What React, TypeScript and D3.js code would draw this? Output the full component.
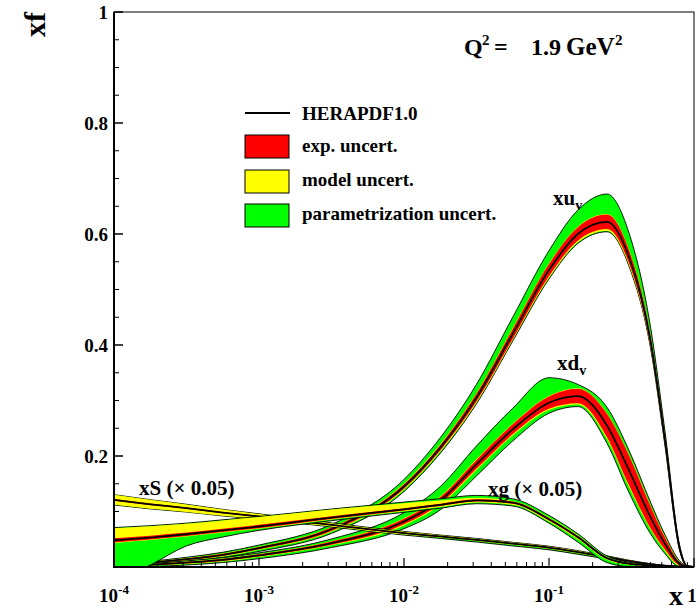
import React from 'react';
import * as d3 from 'd3';

// ---- data ----
const xValues = [1e-4, 1.78e-4, 3.16e-4, 5.62e-4, 1e-3, 3.16e-3, 0.01, 0.0178, 0.0316, 0.0562, 0.1, 0.158, 0.251, 0.355, 0.501, 0.631, 0.794, 0.891, 1];

const xuvCentral = [0.004, 0.008, 0.014, 0.022, 0.034, 0.068, 0.145, 0.215, 0.305, 0.42, 0.535, 0.6, 0.622, 0.56, 0.408, 0.228, 0.035, 0.002, 0];
const xuvExp = [0.001, 0.001, 0.0015, 0.002, 0.002, 0.003, 0.004, 0.005, 0.007, 0.009, 0.011, 0.012, 0.013, 0.012, 0.009, 0.006, 0.002, 0.0005, 0];
const xuvModelLo = [0.0005, 0.0005, 0.001, 0.001, 0.001, 0.0015, 0.002, 0.002, 0.002, 0.002, 0.003, 0.003, 0.003, 0.003, 0.002, 0.002, 0.001, 0, 0];
const xuvModelHi = [0.0003, 0.0003, 0.0005, 0.0005, 0.0005, 0.0005, 0.0008, 0.001, 0.001, 0.001, 0.001, 0.001, 0.001, 0.001, 0.001, 0.001, 0.0005, 0, 0];
const xuvParLo = [0.001, 0.0015, 0.002, 0.002, 0.003, 0.003, 0.003, 0.003, 0.002, 0.002, 0.002, 0.002, 0.002, 0.002, 0.002, 0.002, 0.001, 0, 0];
const xuvParHi = [0.001, 0.001, 0.0015, 0.002, 0.003, 0.005, 0.008, 0.012, 0.016, 0.02, 0.023, 0.03, 0.036, 0.03, 0.015, 0.009, 0.003, 0.0005, 0];

const xdvCentral = [0.002, 0.004, 0.008, 0.013, 0.021, 0.043, 0.082, 0.12, 0.185, 0.248, 0.296, 0.308, 0.255, 0.175, 0.09, 0.042, 0.006, 0.001, 0];
const xdvExp = [0.0005, 0.001, 0.0015, 0.002, 0.002, 0.003, 0.005, 0.006, 0.008, 0.009, 0.011, 0.013, 0.021, 0.027, 0.02, 0.011, 0.003, 0.0005, 0];
const xdvModelLo = [0.0005, 0.0005, 0.001, 0.001, 0.001, 0.001, 0.002, 0.002, 0.002, 0.002, 0.002, 0.002, 0.003, 0.003, 0.002, 0.002, 0.001, 0, 0];
const xdvModelHi = [0.0003, 0.0003, 0.0005, 0.0005, 0.0005, 0.0005, 0.001, 0.001, 0.001, 0.001, 0.001, 0.001, 0.001, 0.001, 0.001, 0.001, 0.0005, 0, 0];
const xdvParLo = [0.001, 0.0015, 0.002, 0.002, 0.003, 0.004, 0.006, 0.009, 0.011, 0.01, 0.006, 0.004, 0.008, 0.01, 0.008, 0.005, 0.002, 0, 0];
const xdvParHi = [0.0005, 0.001, 0.001, 0.0015, 0.002, 0.004, 0.01, 0.018, 0.024, 0.028, 0.033, 0.007, 0.011, 0.008, 0.006, 0.004, 0.002, 0, 0];

const xgCentral = [0.048, 0.053, 0.059, 0.066, 0.073, 0.089, 0.104, 0.112, 0.12, 0.116, 0.086, 0.054, 0.016, 0.006, 0.003, 0.0015, 0.0005, 0.0002, 0];
const xgExp = [0.004, 0.0035, 0.003, 0.003, 0.003, 0.0025, 0.002, 0.002, 0.002, 0.002, 0.002, 0.002, 0.0015, 0.001, 0.0005, 0.0003, 0.0001, 0, 0];
const xgModelLo = [0.001, 0.001, 0.001, 0.001, 0.001, 0.001, 0.0015, 0.002, 0.002, 0.002, 0.002, 0.002, 0.0015, 0.001, 0.0005, 0.0003, 0, 0, 0];
const xgModelHi = [0.018, 0.017, 0.016, 0.015, 0.014, 0.012, 0.009, 0.006, 0.003, 0.001, 0.001, 0.001, 0.0005, 0.0005, 0, 0, 0, 0, 0];
const xgParLo = [0.07, 0.045, 0.017, 0.008, 0.003, 0.002, 0.002, 0.002, 0.002, 0.002, 0.003, 0.005, 0.005, 0.003, 0.001, 0.0005, 0, 0, 0];
const xgParHi = [0.001, 0.001, 0.001, 0.001, 0.001, 0.001, 0.002, 0.003, 0.004, 0.004, 0.004, 0.003, 0.002, 0.001, 0.0005, 0, 0, 0, 0];

const xsCentral = [0.121, 0.113, 0.106, 0.098, 0.091, 0.076, 0.061, 0.055, 0.049, 0.042, 0.035, 0.027, 0.018, 0.011, 0.005, 0.0025, 0.0007, 0.0002, 0];
const xsExp = [0.0015, 0.0015, 0.0012, 0.001, 0.001, 0.001, 0.001, 0.001, 0.001, 0.001, 0.001, 0.001, 0.0008, 0.0005, 0.0003, 0.0002, 0.0001, 0, 0];
const xsModelLo = [0.0075, 0.0065, 0.0055, 0.0045, 0.0035, 0.002, 0.0015, 0.001, 0.001, 0.001, 0.001, 0.001, 0.0008, 0.0005, 0.0003, 0, 0, 0, 0];
const xsModelHi = [0.0075, 0.0065, 0.0055, 0.0045, 0.0035, 0.002, 0.0015, 0.001, 0.001, 0.001, 0.001, 0.001, 0.0008, 0.0005, 0.0003, 0, 0, 0, 0];
const xsParLo = [0.0003, 0.0003, 0.0003, 0.0005, 0.0005, 0.0008, 0.001, 0.0015, 0.002, 0.002, 0.002, 0.002, 0.002, 0.0015, 0.001, 0.0005, 0, 0, 0];
const xsParHi = [0.0003, 0.0003, 0.0003, 0.0003, 0.0003, 0.0005, 0.0005, 0.0005, 0.0005, 0.0005, 0.0005, 0.0005, 0.0005, 0.0003, 0.0002, 0, 0, 0, 0];

const yTickLabels = ['0.2', '0.4', '0.6', '0.8', '1'];
const yTickValues = [0.2, 0.4, 0.6, 0.8, 1];
const xTickValues = [1e-4, 1e-3, 1e-2, 1e-1, 1];
const xTickExps = ['-4', '-3', '-2', '-1', ''];

const legendLabels = ['HERAPDF1.0', 'exp. uncert.', 'model uncert.', 'parametrization uncert.'];

// ---- layout ----
const W = 700, H = 613;
const F = { left: 114, right: 694, top: 12, bottom: 567 };
const FONT = '"Liberation Serif", "Times New Roman", serif';
const RED = '#ff0000', YEL = '#ffff00', GRN = '#00ff00';

const xScale = d3.scaleLog().domain([1e-4, 1]).range([F.left, F.right]);
const yScale = d3.scaleLinear().domain([0, 1]).range([F.bottom, F.top]);

type Series = { c: number[]; e: number[]; mLo: number[]; mHi: number[]; pLo: number[]; pHi: number[] };
const series: Series[] = [
  { c: xuvCentral, e: xuvExp, mLo: xuvModelLo, mHi: xuvModelHi, pLo: xuvParLo, pHi: xuvParHi },
  { c: xdvCentral, e: xdvExp, mLo: xdvModelLo, mHi: xdvModelHi, pLo: xdvParLo, pHi: xdvParHi },
  { c: xsCentral, e: xsExp, mLo: xsModelLo, mHi: xsModelHi, pLo: xsParLo, pHi: xsParHi },
  { c: xgCentral, e: xgExp, mLo: xgModelLo, mHi: xgModelHi, pLo: xgParLo, pHi: xgParHi },
];

const idx = xValues.map((_, i) => i);

function areaPath(lo: (i: number) => number, hi: (i: number) => number) {
  return d3.area<number>()
    .x((i) => xScale(xValues[i]))
    .y0((i) => yScale(lo(i)))
    .y1((i) => yScale(hi(i)))
    .curve(d3.curveMonotoneX)(idx) as string;
}

function linePath(f: (i: number) => number) {
  return d3.line<number>()
    .x((i) => xScale(xValues[i]))
    .y((i) => yScale(f(i)))
    .curve(d3.curveMonotoneX)(idx) as string;
}

function Band({ s }: { s: Series }) {
  const redLo = (i: number) => s.c[i] - s.e[i];
  const redHi = (i: number) => s.c[i] + s.e[i];
  const yelLo = (i: number) => redLo(i) - s.mLo[i];
  const yelHi = (i: number) => redHi(i) + s.mHi[i];
  const grnLo = (i: number) => yelLo(i) - s.pLo[i];
  const grnHi = (i: number) => yelHi(i) + s.pHi[i];
  return (
    <g>
      <path d={areaPath(grnLo, grnHi)} fill={GRN} stroke="#000" strokeWidth={0.9} />
      <path d={areaPath(yelLo, yelHi)} fill={YEL} stroke="none" />
      <path d={areaPath(redLo, redHi)} fill={RED} stroke="none" />
      <path d={linePath((i) => s.c[i])} fill="none" stroke="#000" strokeWidth={1.8} />
    </g>
  );
}

export default function App() {
  const yMinor = d3.range(0.05, 1.0001, 0.05).filter((v) => Math.abs(v * 5 - Math.round(v * 5)) > 1e-6);
  const xMinor: number[] = [];
  for (let e = -4; e < 0; e++) for (let k = 2; k <= 9; k++) xMinor.push(k * Math.pow(10, e));

  return (
    <svg width={W} height={H} style={{ position: 'absolute', left: 0, top: 0, background: '#fff' }} fontFamily={FONT} fontWeight="bold">
      <defs>
        <clipPath id="frameClip">
          <rect x={F.left} y={F.top} width={F.right - F.left} height={F.bottom - F.top} />
        </clipPath>
      </defs>
      <rect x={0} y={0} width={W} height={H} fill="#fff" />

      <g clipPath="url(#frameClip)">
        {series.map((s, k) => <Band key={k} s={s} />)}
      </g>

      {/* frame */}
      <rect x={F.left} y={F.top} width={F.right - F.left} height={F.bottom - F.top} fill="none" stroke="#000" strokeWidth={1} />
      <line x1={F.left} x2={F.left} y1={F.top} y2={F.bottom + 1} stroke="#000" strokeWidth={2} />
      <line x1={F.left - 1} x2={F.right} y1={F.bottom} y2={F.bottom} stroke="#000" strokeWidth={2} />

      {/* y ticks */}
      {yTickValues.map((v) => (
        <line key={'ym' + v} x1={F.left} x2={F.left + 9} y1={yScale(v)} y2={yScale(v)} stroke="#000" strokeWidth={1.5} />
      ))}
      {yMinor.map((v) => (
        <line key={'yn' + v} x1={F.left} x2={F.left + 5} y1={yScale(v)} y2={yScale(v)} stroke="#000" strokeWidth={1} />
      ))}
      {yTickValues.map((v, i) => (
        <text key={'yl' + v} x={F.left - 6} y={yScale(v) + 6.5} textAnchor="end" fontSize={19}>{yTickLabels[i]}</text>
      ))}

      {/* x ticks */}
      {xTickValues.map((v) => (
        <line key={'xm' + v} x1={xScale(v)} x2={xScale(v)} y1={F.bottom} y2={F.bottom - 9} stroke="#000" strokeWidth={1.2} />
      ))}
      {xMinor.map((v) => (
        <line key={'xn' + v} x1={xScale(v)} x2={xScale(v)} y1={F.bottom} y2={F.bottom - 5} stroke="#000" strokeWidth={1} />
      ))}
      {xTickValues.map((v, i) => (
        <text key={'xl' + v} x={xTickExps[i] ? xScale(v) : xScale(v) - 2} y={602} textAnchor="middle" fontSize={19}>
          {xTickExps[i] ? <>10<tspan fontSize={13} dy={-8}>{xTickExps[i]}</tspan></> : '1'}
        </text>
      ))}

      {/* axis titles */}
      <text x={683} y={605} textAnchor="end" fontSize={28}>x</text>
      <text transform="translate(45,12) rotate(-90)" textAnchor="end" fontSize={30}>xf</text>

      {/* Q^2 label */}
      <text x={464} y={55} fontSize={24}>Q</text>
      <text x={482} y={45} fontSize={15}>2</text>
      <text x={494} y={55} fontSize={24}>=</text>
      <text x={531} y={55} fontSize={24}>1.9</text>
      <text x={566} y={55} fontSize={25}>GeV</text>
      <text x={615} y={45} fontSize={15}>2</text>

      {/* legend */}
      <line x1={245} x2={290} y1={113} y2={113} stroke="#000" strokeWidth={2} />
      <rect x={245} y={135} width={44} height={23} fill={RED} stroke="#000" strokeWidth={1} />
      <rect x={245} y={170} width={44} height={23} fill={YEL} stroke="#000" strokeWidth={1} />
      <rect x={245} y={204} width={44} height={23} fill={GRN} stroke="#000" strokeWidth={1} />
      <text x={302} y={120} fontSize={19}>{legendLabels[0]}</text>
      <text x={302} y={152} fontSize={19}>{legendLabels[1]}</text>
      <text x={302} y={186} fontSize={19}>{legendLabels[2]}</text>
      <text x={302} y={220} fontSize={19}>{legendLabels[3]}</text>

      {/* curve labels */}
      <text x={553} y={205} fontSize={21}>xu<tspan fontSize={14} dy={5}>v</tspan></text>
      <text x={557} y={370} fontSize={21}>xd<tspan fontSize={14} dy={5}>v</tspan></text>
      <text x={488} y={496} fontSize={21}>xg (× 0.05)</text>
      <text x={139} y={495} fontSize={21}>xS (× 0.05)</text>
    </svg>
  );
}
